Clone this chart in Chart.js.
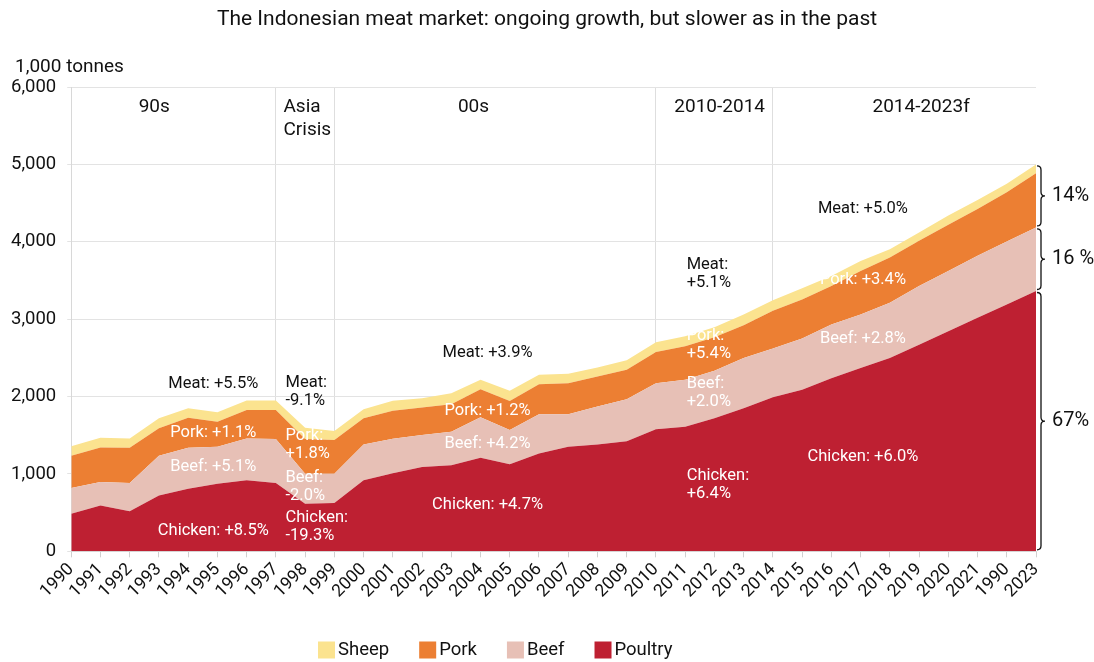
<!DOCTYPE html>
<html>
<head>
<meta charset="utf-8">
<script src="https://cdn.jsdelivr.net/npm/chart.js@4.4.1/dist/chart.umd.min.js"></script>
<style>
    html, body { margin: 0; padding: 0; background: #fff; }
    #wrap { width: 1094px; height: 662px; }
</style>
</head>
<body>
<div id="wrap"><canvas id="meatChart"></canvas></div>
<script>
/* =========================
   DATA (1,000 tonnes)
========================= */

const years = ["1990", "1991", "1992", "1993", "1994", "1995", "1996", "1997", "1998", "1999",
    "2000", "2001", "2002", "2003", "2004", "2005", "2006", "2007", "2008", "2009",
    "2010", "2011", "2012", "2013", "2014", "2015", "2016", "2017", "2018", "2019",
    "2020", "2021", "1990", "2023"];

const poultry = [485, 593, 519, 723, 810, 874, 918, 883, 615, 623,
    918, 1010, 1091, 1113, 1208, 1126, 1264, 1351, 1381, 1424,
    1576, 1610, 1719, 1848, 1990, 2087, 2238, 2368, 2498, 2671,
    2844, 3017, 3190, 3364];

const beef = [333, 303, 364, 511, 528, 476, 541, 567, 389, 381,
    463, 445, 411, 432, 524, 441, 507, 420, 489, 541,
    597, 606, 614, 650, 630, 662, 693, 693, 714, 758,
    779, 801, 814, 822];

const pork = [416, 446, 455, 355, 389, 325, 368, 377, 446, 433,
    338, 360, 355, 355, 363, 377, 389, 402, 390, 381,
    403, 433, 433, 424, 490, 506, 498, 562, 585, 584,
    598, 606, 637, 701];

const sheep = [125, 126, 121, 130, 121, 122, 121, 121, 147, 117,
    116, 130, 121, 143, 121, 130, 121, 121, 117, 122,
    125, 130, 130, 139, 135, 143, 129, 130, 108, 108,
    117, 117, 108, 113];

const yTicks = [0, 1000, 2000, 3000, 4000, 5000, 6000];

// period separators (category index) and period names
const periodLines = [7, 9, 20, 24];
const periods = [
    { lines: ["90s"], at: 2.84, align: "center" },
    { lines: ["Asia", "Crisis"], at: 7.26, align: "left" },
    { lines: ["00s"], at: 13.76, align: "center" },
    { lines: ["2010-2014"], at: 22.18, align: "center" },
    { lines: ["2014-2023f"], at: 29.07, align: "center" }
];

// growth notes: text, category index, value, alignment, dark or light
const notes = [
    [["Meat: +5.5%"], 4.86, 2169, "center", "dark"],
    [["Pork: +1.1%"], 4.86, 1532, "center", "light"],
    [["Beef: +5.1%"], 4.86, 1091, "center", "light"],
    [["Chicken: +8.5%"], 4.86, 260, "center", "light"],
    [["Meat:", "-9.1%"], 7.33, 2182, "left", "dark"],
    [["Pork:", "+1.8%"], 7.33, 1494, "left", "light"],
    [["Beef:", "-2.0%"], 7.33, 948, "left", "light"],
    [["Chicken:", "-19.3%"], 7.33, 429, "left", "light"],
    [["Meat: +3.9%"], 14.24, 2558, "center", "dark"],
    [["Pork: +1.2%"], 14.24, 1818, "center", "light"],
    [["Beef: +4.2%"], 14.24, 1390, "center", "light"],
    [["Chicken: +4.7%"], 14.24, 597, "center", "light"],
    [["Meat:", "+5.1%"], 21.05, 3701, "left", "dark"],
    [["Pork:", "+5.4%"], 21.05, 2779, "left", "light"],
    [["Beef:", "+2.0%"], 21.05, 2169, "left", "light"],
    [["Chicken:", "+6.4%"], 21.05, 974, "left", "light"],
    [["Meat: +5.0%"], 27.08, 4429, "center", "dark"],
    [["Pork: +3.4%"], 27.08, 3506, "center", "light"],
    [["Beef: +2.8%"], 27.08, 2740, "center", "light"],
    [["Chicken: +6.0%"], 27.08, 1221, "center", "light"]
];

const shareLabels = ["67%", "16 %", "14%"];

/* =========================
   PLUGIN: title, notes, braces, legend
========================= */

const extrasPlugin = {
    id: "extras",
    afterDatasetsDraw(chart) {
        const ctx = chart.ctx;
        const x = chart.scales.x;
        const y = chart.scales.y;
        const area = chart.chartArea;

        ctx.save();
        ctx.textBaseline = "middle";
        ctx.fillStyle = "#111";

        // title
        ctx.font = "21px Roboto";
        ctx.textAlign = "center";
        ctx.fillText("The Indonesian meat market: ongoing growth, but slower as in the past", chart.width / 2, 20);

        // unit label
        ctx.font = "19px Roboto";
        ctx.textAlign = "left";
        ctx.fillText("1,000 tonnes", 15, 67);

        // period names
        periods.forEach(p => {
            ctx.textAlign = p.align;
            p.lines.forEach((t, i) => {
                ctx.fillText(t, x.getPixelForValue(p.at), y.getPixelForValue(5740) + i * 23);
            });
        });

        // growth notes
        ctx.font = "16.5px Roboto";
        notes.forEach(n => {
            ctx.fillStyle = n[4] === "dark" ? "#111" : "#fff";
            ctx.textAlign = n[3];
            n[0].forEach((t, i) => {
                ctx.fillText(t, x.getPixelForValue(n[1]), y.getPixelForValue(n[2]) + i * 18);
            });
        });

        // braces with shares for the last year
        const last = years.length - 1;
        const tops = [0, poultry[last], poultry[last] + beef[last],
            poultry[last] + beef[last] + pork[last] + sheep[last]];
        ctx.strokeStyle = "#111";
        ctx.lineWidth = 1.3;
        ctx.fillStyle = "#111";
        ctx.textAlign = "left";
        ctx.font = "20px Roboto";
        for (let i = 0; i < 3; i++) {
            const yb = y.getPixelForValue(tops[i]) - 1.5;
            const yt = y.getPixelForValue(tops[i + 1]) + 1.5;
            const ym = (yb + yt) / 2;
            const x0 = area.right + 1;
            const x1 = area.right + 5;
            const x2 = area.right + 9;
            ctx.beginPath();
            ctx.moveTo(x0, yt);
            ctx.quadraticCurveTo(x1, yt, x1, yt + 4);
            ctx.lineTo(x1, ym - 4);
            ctx.quadraticCurveTo(x1, ym, x2, ym);
            ctx.quadraticCurveTo(x1, ym, x1, ym + 4);
            ctx.lineTo(x1, yb - 4);
            ctx.quadraticCurveTo(x1, yb, x0, yb);
            ctx.stroke();
            ctx.fillText(shareLabels[i], area.right + 16, ym);
        }

        // legend (top series first)
        ctx.font = "18.5px Roboto";
        let lx = 318;
        chart.data.datasets.slice().reverse().forEach(ds => {
            ctx.fillStyle = ds.backgroundColor;
            ctx.fillRect(lx, 641.5, 17, 17);
            ctx.fillStyle = "#111";
            ctx.fillText(ds.label, lx + 20, 650);
            lx += 20 + ctx.measureText(ds.label).width + 30;
        });
        ctx.restore();
    }
};

/* =========================
   CHART
========================= */

Chart.defaults.font.family = "Roboto";
Chart.defaults.color = "#111";

function area(label, data, color) {
    return {
        label: label,
        data: data,
        backgroundColor: color,
        borderColor: color,
        borderWidth: 0,
        pointRadius: 0,
        tension: 0,
        fill: label === "Poultry" ? "origin" : "-1"
    };
}

new Chart(document.getElementById("meatChart"), {
    type: "line",
    data: {
        labels: years,
        datasets: [
            area("Poultry", poultry, "#be2032"),
            area("Beef", beef, "#e7c0b6"),
            area("Pork", pork, "#ec7f33"),
            area("Sheep", sheep, "#fbe38f")
        ]
    },
    options: {
        responsive: true,
        maintainAspectRatio: false,
        animation: false,
        layout: { padding: { left: 0, right: 58, top: 87, bottom: 58 } },
        plugins: {
            title: { display: false },
            legend: { display: false },
            tooltip: { enabled: false }
        },
        scales: {
            x: {
                stacked: true,
                offset: false,
                grid: {
                    color: c => periodLines.includes(c.index) ? "#dedede" : "rgba(0,0,0,0)",
                    tickColor: "#d0d0d0",
                    tickLength: 6
                },
                border: { color: "#d8d8d8" },
                ticks: {
                    autoSkip: false,
                    maxRotation: 45,
                    minRotation: 45,
                    font: { size: 17.5 },
                    color: "#111",
                    padding: 2
                }
            },
            y: {
                stacked: true,
                min: 0,
                max: 6000,
                afterBuildTicks: s => { s.ticks = yTicks.map(v => ({ value: v })); },
                grid: { color: "#e3e3e3", tickLength: 4 },
                border: { color: "#d8d8d8" },
                ticks: {
                    font: { size: 18.5 },
                    color: "#111",
                    padding: 11,
                    callback: v => v.toLocaleString("en-US")
                }
            }
        }
    },
    plugins: [extrasPlugin]
});
</script>
</body>
</html>
